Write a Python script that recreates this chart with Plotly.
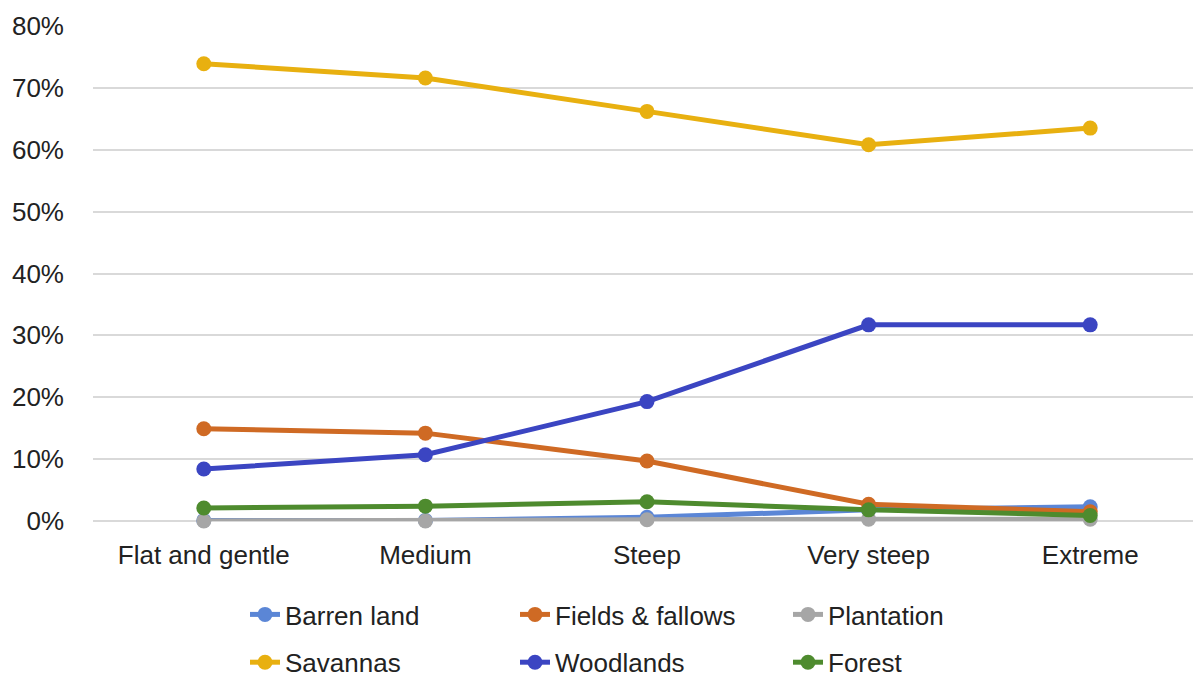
import plotly.graph_objects as go

categories = ["Flat and gentle", "Medium", "Steep", "Very steep", "Extreme"]
barren_land = [0.1, 0.1, 0.6, 1.8, 2.3]
fields_fallows = [14.9, 14.2, 9.7, 2.7, 1.5]
plantation = [0.0, 0.0, 0.2, 0.3, 0.3]
savannas = [73.9, 71.6, 66.2, 60.8, 63.5]
woodlands = [8.4, 10.7, 19.3, 31.7, 31.7]
forest = [2.1, 2.4, 3.1, 1.8, 0.9]

series = [
    ("Barren land", barren_land, "#5B86D6", "legend"),
    ("Fields & fallows", fields_fallows, "#CF6A24", "legend2"),
    ("Plantation", plantation, "#A6A6A6", "legend3"),
    ("Savannas", savannas, "#E8B010", "legend"),
    ("Woodlands", woodlands, "#3B45C2", "legend2"),
    ("Forest", forest, "#4E8B2E", "legend3"),
]

fig = go.Figure()
for i, (name, vals, color, lg) in enumerate(series):
    fig.add_trace(go.Scatter(
        x=categories, y=vals, name=name, mode="lines+markers",
        line=dict(color=color, width=5),
        marker=dict(color=color, size=15),
        cliponaxis=False, legend=lg, legendgroup=name,
    ))

FONT_FAMILY = "Liberation Sans, Arial, sans-serif"
font = dict(family=FONT_FAMILY, size=26, color="#222222")
leg_common = dict(
    orientation="v", yanchor="top", xanchor="left",
    font=dict(family=FONT_FAMILY, size=26, color="#222222"),
    bgcolor="rgba(0,0,0,0)", tracegroupgap=11, itemwidth=30,
)
ML, MR, MT, MB = 85, 8, 18, 166
H = 679 - MT - MB
W = 1201 - ML - MR

def ly(py):
    return (679 - MB - py) / H

def lx(px):
    return (px - ML) / W

fig.update_layout(
    width=1201, height=679,
    margin=dict(l=ML, r=MR, t=MT, b=MB, autoexpand=False),
    paper_bgcolor="white", plot_bgcolor="white",
    font=font,
    showlegend=True,
    legend=dict(x=lx(237), y=ly(583), **leg_common),
    legend2=dict(x=lx(507), y=ly(583), **leg_common),
    legend3=dict(x=lx(780), y=ly(583), **leg_common),
    xaxis=dict(
        type="category", range=[-0.5, 4.5], showgrid=False, showline=False,
        ticks="", tickfont=font, fixedrange=True, automargin=False,
        ticklabelstandoff=16,
    ),
    yaxis=dict(
        range=[0, 80], dtick=10, ticksuffix="%", showgrid=True,
        gridcolor="#D9D9D9", gridwidth=2, zeroline=True, zerolinecolor="#D9D9D9",
        zerolinewidth=2, showline=False, tickfont=font, ticklabelstandoff=28,
        automargin=False,
    ),
)
fig.write_html("out.html")
